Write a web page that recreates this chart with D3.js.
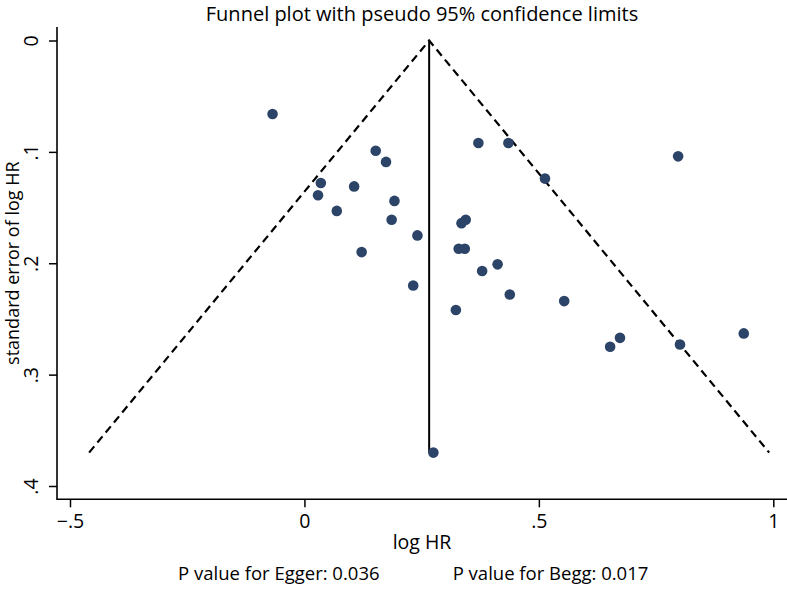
<!DOCTYPE html>
<html>
<head>
<meta charset="utf-8">
<script src="https://cdn.jsdelivr.net/npm/d3@7"></script>
<style>
  body { margin: 0; background: #fff; }
  svg text { font-family: 'Open Sans', 'Noto Sans', sans-serif; fill: #000; }
</style>
</head>
<body>
<div id="chart"></div>
<script>
// study estimates
const logHR = [-0.068, 0.152, 0.174, 0.035, 0.106, 0.029, 0.192, 0.069, 0.186, 0.241,
  0.122, 0.232, 0.323, 0.344, 0.335, 0.342, 0.329, 0.379, 0.412, 0.438,
  0.554, 0.652, 0.673, 0.801, 0.937, 0.371, 0.435, 0.797, 0.513, 0.275];
const seLogHR = [0.066, 0.099, 0.109, 0.128, 0.131, 0.139, 0.144, 0.153, 0.161, 0.175,
  0.190, 0.220, 0.242, 0.161, 0.164, 0.187, 0.187, 0.207, 0.201, 0.228,
  0.234, 0.275, 0.267, 0.273, 0.263, 0.092, 0.092, 0.104, 0.124, 0.370];
const pooled = 0.266;
const xTicks = [-0.5, 0, 0.5, 1];
const yTicks = [0, 0.1, 0.2, 0.3, 0.4];
const titleText = 'Funnel plot with pseudo 95% confidence limits';
const xLabel = 'log HR';
const yLabel = 'standard error of log HR';
const notes = ['P value for Egger: 0.036', 'P value for Begg: 0.017'];

const width = 787, height = 594;
const plotLeft = 57, plotRight = 787, plotTop = 27, plotBottom = 499.3;
const pointColor = '#2c4468';

const svg = d3.select('#chart').append('svg')
  .attr('width', width)
  .attr('height', height);

const x = d3.scaleLinear().domain([-0.5, 1]).range([70, 773.3]);
const y = d3.scaleLinear().domain([0, 0.4]).range([40.5, 486]);

// stata style labels: ".5", "-.5"
const fmt = (v) => String(v).replace(/^(-?)0\./, '$1.').replace('-', '\u2212');

// axes
const xAxis = svg.append('g')
  .attr('transform', 'translate(0,' + plotBottom + ')')
  .call(d3.axisBottom(x).tickValues(xTicks).tickSize(8).tickSizeOuter(0).tickFormat(fmt));
xAxis.select('.domain').remove();
xAxis.selectAll('.tick line').attr('stroke', '#000').attr('stroke-width', 1.5);
xAxis.selectAll('.tick text')
  .attr('y', 28.5).attr('dy', null)
  .style('font-size', '19.5px');

const yAxis = svg.append('g')
  .attr('transform', 'translate(' + plotLeft + ',0)')
  .call(d3.axisLeft(y).tickValues(yTicks).tickSize(8).tickSizeOuter(0).tickFormat(fmt));
yAxis.select('.domain').remove();
yAxis.selectAll('.tick line').attr('stroke', '#000').attr('stroke-width', 1.5);
yAxis.selectAll('.tick text')
  .attr('x', null).attr('dy', null)
  .attr('text-anchor', 'middle')
  .attr('transform', 'translate(-18.7,0) rotate(-90)')
  .style('font-size', '19.5px');

svg.append('line')
  .attr('x1', plotLeft).attr('x2', plotLeft)
  .attr('y1', plotTop).attr('y2', plotBottom + 0.75)
  .attr('stroke', '#000').attr('stroke-width', 1.6);
svg.append('line')
  .attr('x1', plotLeft).attr('x2', plotRight)
  .attr('y1', plotBottom).attr('y2', plotBottom)
  .attr('stroke', '#000').attr('stroke-width', 1.6);

// pseudo 95% limits
const seMax = d3.max(seLogHR);
const funnel = [
  [pooled - 1.96 * seMax, seMax],
  [pooled, 0],
  [pooled + 1.96 * seMax, seMax]
];
const line = d3.line().x((d) => x(d[0])).y((d) => y(d[1]));
svg.append('path')
  .datum(funnel)
  .attr('d', line)
  .attr('fill', 'none')
  .attr('stroke', '#000')
  .attr('stroke-width', 2.2)
  .attr('stroke-dasharray', '8,5');

svg.append('line')
  .attr('x1', x(pooled)).attr('x2', x(pooled))
  .attr('y1', y(0)).attr('y2', y(seMax))
  .attr('stroke', '#000').attr('stroke-width', 2);

// studies
svg.append('g').selectAll('circle')
  .data(logHR.map((v, i) => ({ x: v, se: seLogHR[i] })))
  .enter()
  .append('circle')
  .attr('cx', (d) => x(d.x))
  .attr('cy', (d) => y(d.se))
  .attr('r', 5.3)
  .attr('fill', pointColor);

// titles
const midX = (plotLeft + plotRight) / 2;
svg.append('text')
  .attr('x', midX).attr('y', 20.5)
  .attr('text-anchor', 'middle')
  .style('font-size', '20px')
  .text(titleText);

svg.append('text')
  .attr('x', midX).attr('y', 549)
  .attr('text-anchor', 'middle')
  .style('font-size', '19.5px')
  .text(xLabel);

svg.append('text')
  .attr('transform', 'translate(18.5,' + (plotTop + plotBottom) / 2 + ') rotate(-90)')
  .attr('text-anchor', 'middle')
  .style('font-size', '18px')
  .text(yLabel);

svg.append('text')
  .attr('x', 178).attr('y', 580)
  .style('font-size', '18.5px')
  .text(notes[0]);
svg.append('text')
  .attr('x', 452.7).attr('y', 580)
  .style('font-size', '18.5px')
  .text(notes[1]);
</script>
</body>
</html>
